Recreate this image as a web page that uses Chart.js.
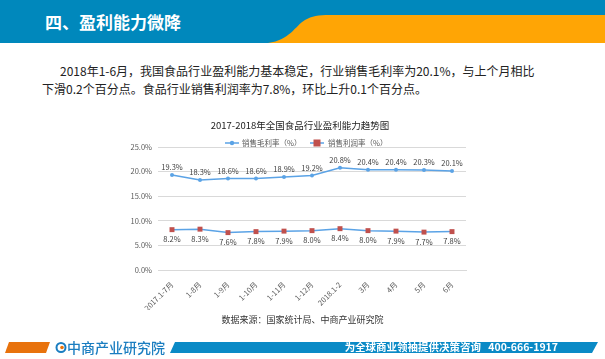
<!DOCTYPE html>
<html>
<head>
<meta charset="utf-8">
<script src="https://cdn.jsdelivr.net/npm/chart.js@4.4.1/dist/chart.umd.min.js"></script>
<style>
body{margin:0;width:605px;height:359px;overflow:hidden;background:#fff;
  font-family:"Noto Sans CJK SC","Noto Sans",sans-serif;position:relative;}
#head{position:absolute;left:0;top:0;width:605px;height:43px;}
#htitle{position:absolute;left:45px;top:10px;color:#fff;font-size:17px;font-weight:bold;line-height:24px;}
.p{position:absolute;font-size:12px;color:#222;line-height:18px;white-space:nowrap;}
#wrap{position:absolute;left:100px;top:112px;width:390px;height:205px;}
#src{position:absolute;left:0;width:605px;top:313px;text-align:center;font-size:9px;color:#333;}
#foot{position:absolute;left:0;top:336px;width:605px;height:23px;}
#logo{position:absolute;left:67px;top:337px;font-size:14px;font-weight:500;color:#1a7dc0;white-space:nowrap;}
#slogan{position:absolute;right:47px;top:339px;font-size:10.5px;font-weight:bold;color:#fff;white-space:nowrap;}
</style>
</head>
<body>
<svg id="head" width="605" height="43">
  <rect x="0" y="0" width="605" height="43" fill="#0088bc"/>
  <path d="M268 43 C290 40 295 26 305 20 C312 16 318 15 330 15 L605 15 L605 43 Z" fill="#ffa505"/>
</svg>
<div id="htitle">四、盈利能力微降</div>
<div class="p" style="left:60px;top:62px;">2018年1-6月，我国食品行业盈利能力基本稳定，行业销售毛利率为20.1%，与上个月相比</div>
<div class="p" style="left:42px;top:80px;">下滑0.2个百分点。食品行业销售利润率为7.8%，环比上升0.1个百分点。</div>
<div id="wrap"><canvas id="chart"></canvas></div>
<div id="src">数据来源：国家统计局、中商产业研究院</div>
<svg id="foot" width="605" height="23">
  <polygon points="9,6 50,6 46,17 5,17" fill="#e8720c"/>
  <circle cx="61" cy="11.5" r="4.5" fill="none" stroke="#1a7dc0" stroke-width="2"/>
  <circle cx="62" cy="11.5" r="1.8" fill="#e8720c"/>
  <polygon points="175,6 598,6 592,17 170,17" fill="#0a8ac6"/>
</svg>
<div id="logo">中商产业研究院</div>
<div id="slogan">为全球商业领袖提供决策咨询&nbsp;&nbsp;&nbsp;400-666-1917</div>
<script>
const categories = ["2017.1-7月","1-8月","1-9月","1-10月","1-11月","1-12月","2018.1-2","3月","4月","5月","6月"];
const grossMargin = [19.3,18.3,18.6,18.6,18.9,19.2,20.8,20.4,20.4,20.3,20.1];
const profitMargin = [8.2,8.3,7.6,7.8,7.9,8.0,8.4,8.0,7.9,7.7,7.8];
const yTicks = [0,5,10,15,20,25];
const seriesNames = ["销售毛利率（%）","销售利润率（%）"];
const chartTitle = "2017-2018年全国食品行业盈利能力趋势图";

const lineBlue = "#5ba3e6";
const markRed = "#c0504d";
const smallFont = '7.5px "Noto Sans CJK SC", sans-serif';

const extras = {
    id:"extras",
    afterDraw(chart){
        const c = chart.ctx;
        c.save();
        // title
        c.fillStyle = "#222";
        c.font = '9.5px "Noto Sans CJK SC", sans-serif';
        c.textAlign = "center";
        c.textBaseline = "middle";
        c.fillText(chartTitle, 200, 13);
        // legend
        c.font = smallFont;
        c.textAlign = "left";
        c.fillStyle = "#595959";
        let y = 31;
        c.strokeStyle = lineBlue; c.lineWidth = 1.5;
        c.beginPath(); c.moveTo(125,y); c.lineTo(139,y); c.stroke();
        c.fillStyle = lineBlue;
        c.beginPath(); c.arc(132,y,2.2,0,Math.PI*2); c.fill();
        c.fillStyle = "#595959";
        c.fillText(seriesNames[0],142,y);
        c.beginPath(); c.moveTo(210,y); c.lineTo(224,y); c.stroke();
        c.fillStyle = markRed;
        c.fillRect(213.5,y-3.5,7,7);
        c.fillStyle = "#595959";
        c.fillText(seriesNames[1],228,y);
        c.restore();
    },
    afterDatasetsDraw(chart){
        const c = chart.ctx;
        c.save();
        c.font = smallFont;
        c.fillStyle = "#404040";
        c.textAlign = "center";
        chart.data.datasets.forEach((ds,i)=>{
            const meta = chart.getDatasetMeta(i);
            meta.data.forEach((pt,j)=>{
                const txt = ds.data[j].toFixed(1)+"%";
                if(i===0){
                    c.textBaseline = "bottom";
                    c.fillText(txt, pt.x, pt.y-4);
                }else{
                    c.textBaseline = "top";
                    c.fillText(txt, pt.x, pt.y+6);
                }
            });
        });
        c.restore();
    }
};

new Chart(document.getElementById("chart"),{
    type:"line",
    data:{
        labels:categories,
        datasets:[{
            label:seriesNames[0],
            data:grossMargin,
            borderColor:lineBlue,
            backgroundColor:lineBlue,
            borderWidth:1.5,
            pointRadius:2,
            pointBackgroundColor:lineBlue,
            pointBorderWidth:0,
            tension:0
        },{
            label:seriesNames[1],
            data:profitMargin,
            borderColor:lineBlue,
            backgroundColor:markRed,
            borderWidth:1.5,
            pointStyle:"rect",
            pointRadius:3.5,
            pointBackgroundColor:markRed,
            pointBorderColor:markRed,
            pointBorderWidth:0,
            tension:0
        }]
    },
    options:{
        responsive:true,
        maintainAspectRatio:false,
        animation:false,
        layout:{padding:{top:35,right:24,bottom:7,left:0}},
        plugins:{
            legend:{display:false},
            title:{display:false},
            tooltip:{enabled:false}
        },
        scales:{
            x:{
                offset:true,
                grid:{display:false},
                border:{color:"#d9d9d9"},
                ticks:{
                    color:"#595959",
                    font:{size:7.5,family:"Noto Sans CJK SC"},
                    minRotation:45,maxRotation:45,autoSkip:false,padding:2
                },
                afterFit(s){ s.height = 40; }
            },
            y:{
                min:0,max:25,
                afterBuildTicks(s){ s.ticks = yTicks.map(v=>({value:v})); },
                grid:{color:"#d9d9d9",drawTicks:false},
                border:{display:false},
                ticks:{
                    color:"#595959",
                    font:{size:7.5,family:"Noto Sans CJK SC"},
                    padding:6,
                    callback:v=>v.toFixed(1)+"%"
                },
                afterFit(s){ s.width = 58; }
            }
        }
    },
    plugins:[extras]
});
</script>
</body>
</html>
